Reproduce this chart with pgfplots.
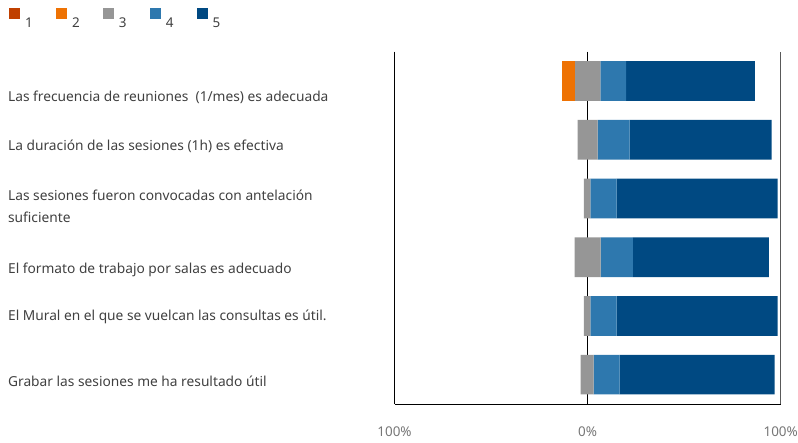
\documentclass[border=0pt]{standalone}
\usepackage{pgfplots}
\pgfplotsset{compat=1.18}
\usepackage{pgfplotstable}
\usepackage{fontspec}
\setmainfont{Noto Sans}

\definecolor{c1}{RGB}{192,64,0}
\definecolor{c2}{RGB}{238,114,3}
\definecolor{c3}{RGB}{150,150,150}
\definecolor{c4}{RGB}{46,120,174}
\definecolor{c5}{RGB}{0,73,130}
\definecolor{txt}{RGB}{64,64,64}
\definecolor{ticktxt}{RGB}{118,118,118}

\pgfplotsset{
    sqlegend/.style={legend image code/.code={%
        \fill[##1,draw=none] (0bp,4.8bp) rectangle (10.7bp,15.5bp);
        \path (13.7bp,0bp);}},
}
\tikzset{lbl/.style={anchor=base west, text=txt, inner sep=0pt, font=\fontsize{13.8}{16}\selectfont}}

% x runs 0..200, 100 = 0%; off = invisible start of each bar
\pgfplotstableread{
y off a b c d e
1 86.6 0 6.7 13.3 13.3 66.7
2 94.8 0 0 10.4 16.6 73.5
3 98.1 0 0 3.4 13.5 83.4
4 93.3 0 0 13.5 16.6 70.5
5 98.1 0 0 3.4 13.5 83.4
6 96.4 0 0 6.7 13.5 80.3
}\likert

\begin{document}
\begin{tikzpicture}
\path[use as bounding box] (0,0) rectangle (798bp,443bp);
\begin{axis}[
    at={(394.5bp,39bp)}, anchor=south west,
    scale only axis, width=386.2bp, height=352.3bp,
    xbar stacked, bar width=39.7bp,
    xmin=0, xmax=200, ymin=0.5, ymax=6.5, y dir=reverse,
    axis x line*=bottom, axis y line*=left,
    axis line style={-, black, line width=0.8pt},
    xtick={0,100,200}, xticklabels={100\%,0\%,100\%},
    xticklabel style={text=ticktxt, font=\fontsize{13.5}{16}\selectfont, yshift=-19bp},
    major tick length=0pt,
    ytick=\empty,
    extra x ticks={100}, extra x tick labels={},
    extra x tick style={grid=major, major grid style={black, line width=0.8pt}},
    clip=false,
    legend columns=5,
    legend style={at={(axis description cs:-0.9974,1.124)}, anchor=north west,
        draw=none, fill=none, inner sep=0pt,
        font=\fontsize{13.5}{16}\selectfont, text=txt,
        /tikz/every even column/.append style={column sep=21.5bp}},
    sqlegend,
]
\addplot[draw=none, fill=none, forget plot] table[x=off, y=y] {\likert};
\addplot[fill=c1, draw=none] table[x=a, y=y] {\likert};
\addplot[fill=c2, draw=none] table[x=b, y=y] {\likert};
\addplot[fill=c3, draw=none] table[x=c, y=y] {\likert};
\addplot[fill=c4, draw=none] table[x=d, y=y] {\likert};
\addplot[fill=c5, draw=none] table[x=e, y=y] {\likert};
\legend{1,2,3,4,5}

\draw[black!65, line width=1pt] (rel axis cs:1,0) -- (rel axis cs:1,1);

\node[lbl] at (axis cs:-200.2,1.345) {Las frecuencia de reuniones~ (1/mes) es adecuada};
\node[lbl] at (axis cs:-200.2,2.186) {La duración de las sesiones (1h) es efectiva};
\node[lbl] at (axis cs:-200.2,3.026) {Las sesiones fueron convocadas con antelación};
\node[lbl] at (axis cs:-200.2,3.412) {suficiente};
\node[lbl] at (axis cs:-200.2,4.274) {El formato de trabajo por salas es adecuado};
\node[lbl] at (axis cs:-200.2,5.081) {El Mural en el que se vuelcan las consultas es útil.};
\node[lbl] at (axis cs:-200.2,6.205) {Grabar las sesiones me ha resultado útil};
\end{axis}
\end{tikzpicture}
\end{document}
